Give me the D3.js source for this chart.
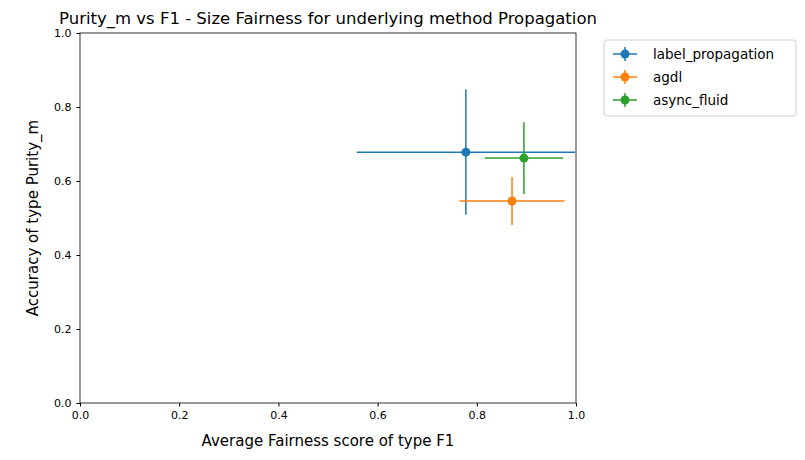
<!DOCTYPE html>
<html><head><meta charset="utf-8">
<script src="https://cdn.jsdelivr.net/npm/d3@7"></script>
<style>body{margin:0;background:#fff;font-family:"DejaVu Sans",sans-serif;}</style>
</head><body>
<script>
var methods = ["label_propagation", "agdl", "async_fluid"];
var colors = ["#1f77b4", "#ff7f0e", "#2ca02c"];
var fairness = [0.778, 0.871, 0.895];
var fairnessErr = [0.22, 0.106, 0.079];
var purity = [0.678, 0.546, 0.662];
var purityErr = [0.169, 0.065, 0.097];
var ticks = [0, 0.2, 0.4, 0.6, 0.8, 1.0];

var w = 805, h = 460;
var padLeft = 80, padRight = 576, padTop = 33, padBottom = 403;

var svg = d3.select("body").append("svg").attr("width", w).attr("height", h);

var xScale = d3.scaleLinear().domain([0, 1]).range([padLeft, padRight]);
var yScale = d3.scaleLinear().domain([0, 1]).range([padBottom, padTop]);

svg.append("clipPath").attr("id", "clip").append("rect")
    .attr("x", padLeft).attr("y", padTop).attr("width", padRight - padLeft).attr("height", padBottom - padTop);

var fmt = d3.format(".1f");
svg.append("g").attr("transform", "translate(0," + padBottom + ")")
    .call(d3.axisBottom(xScale).tickValues(ticks).tickFormat(fmt).tickSizeOuter(0).tickSize(3.5).tickPadding(5))
    .attr("font-size", "11px").attr("font-family", "DejaVu Sans");
svg.append("g").attr("transform", "translate(" + padLeft + ",0)")
    .call(d3.axisLeft(yScale).tickValues(ticks).tickFormat(fmt).tickSizeOuter(0).tickSize(3.5).tickPadding(5))
    .attr("font-size", "11px").attr("font-family", "DejaVu Sans");
svg.selectAll(".domain").remove();
svg.append("rect").attr("x", padLeft).attr("y", padTop).attr("width", padRight - padLeft).attr("height", padBottom - padTop)
    .attr("fill", "none").attr("stroke", "#000").attr("stroke-width", 0.8);

var plot = svg.append("g").attr("clip-path", "url(#clip)");
methods.forEach(function(m, i) {
    var g = plot.append("g");
    g.append("line")
        .attr("x1", xScale(fairness[i] - fairnessErr[i])).attr("x2", xScale(fairness[i] + fairnessErr[i]))
        .attr("y1", yScale(purity[i])).attr("y2", yScale(purity[i]))
        .attr("stroke", colors[i]).attr("stroke-width", 1.5);
    g.append("line")
        .attr("x1", xScale(fairness[i])).attr("x2", xScale(fairness[i]))
        .attr("y1", yScale(purity[i] - purityErr[i])).attr("y2", yScale(purity[i] + purityErr[i]))
        .attr("stroke", colors[i]).attr("stroke-width", 1.5);
    g.append("circle").attr("cx", xScale(fairness[i])).attr("cy", yScale(purity[i]))
        .attr("r", 4.5).attr("fill", colors[i]);
});

svg.append("text").attr("x", 328).attr("y", 24).attr("text-anchor", "middle")
    .attr("font-size", "16.5px").text("Purity_m vs F1 - Size Fairness for underlying method Propagation");
svg.append("text").attr("x", (padLeft + padRight) / 2).attr("y", 446).attr("text-anchor", "middle")
    .attr("font-size", "15px").text("Average Fairness score of type F1");
svg.append("text").attr("transform", "translate(38," + ((padTop + padBottom) / 2) + ") rotate(-90)")
    .attr("text-anchor", "middle").attr("font-size", "15px").text("Accuracy of type Purity_m");

var lg = svg.append("g");
lg.append("rect").attr("x", 604).attr("y", 40).attr("width", 192).attr("height", 76).attr("rx", 3)
    .attr("fill", "#fff").attr("stroke", "#d0d0d0");
methods.forEach(function(m, i) {
    var y = 54 + i * 23;
    lg.append("line").attr("x1", 613).attr("x2", 637).attr("y1", y).attr("y2", y).attr("stroke", colors[i]).attr("stroke-width", 1.5);
    lg.append("line").attr("x1", 625).attr("x2", 625).attr("y1", y - 7).attr("y2", y + 7).attr("stroke", colors[i]).attr("stroke-width", 1.5);
    lg.append("circle").attr("cx", 625).attr("cy", y).attr("r", 4.5).attr("fill", colors[i]);
    lg.append("text").attr("x", 653).attr("y", y + 5).attr("font-size", "13.5px").text(m);
});
</script>
</body></html>
